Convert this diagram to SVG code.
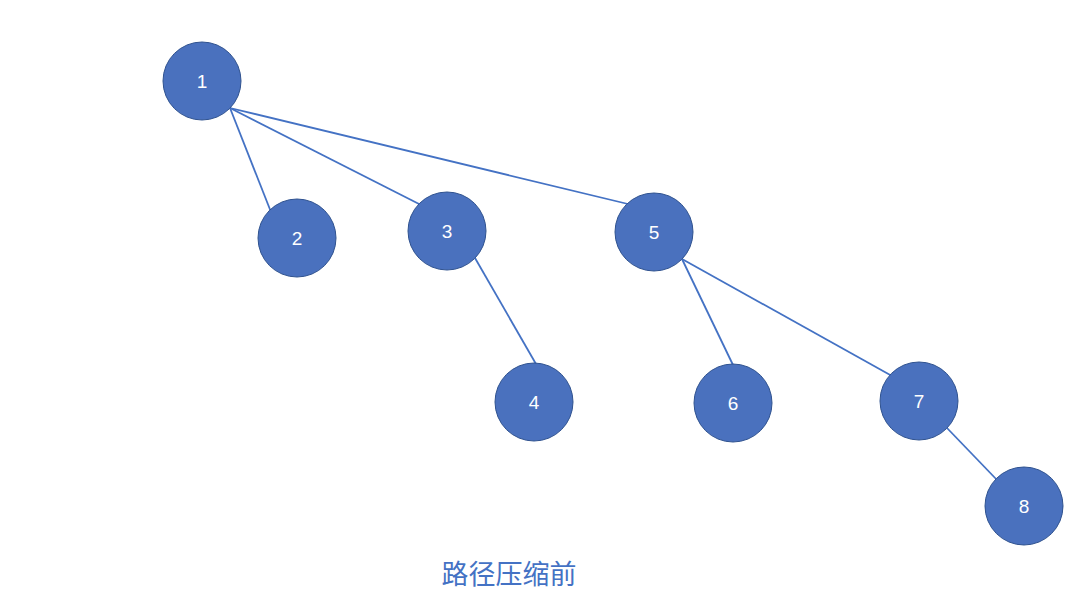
<svg xmlns="http://www.w3.org/2000/svg" width="1082" height="600" viewBox="0 0 1082 600">
<style>
.n{fill:#4A71BE;stroke:#2F528F;stroke-width:1}
.t{fill:#fff;font-family:"Liberation Sans",Arial,sans-serif;font-size:19px;text-anchor:middle}
.e{stroke:#4472C4;stroke-width:1.8;fill:none}
.title{fill:#4472C4;font-family:"Noto Sans CJK SC",sans-serif;font-size:27px;text-anchor:middle}
</style>
<rect width="1082" height="600" fill="#fff"/>
<g id="connectors">
<line class="e" x1="230" y1="108" x2="271" y2="212"/>
<line class="e" x1="230" y1="108" x2="423" y2="206"/>
<line class="e" x1="230" y1="108" x2="628" y2="204"/>
<line class="e" x1="475" y1="258" x2="536" y2="364"/>
<line class="e" x1="682" y1="259" x2="733" y2="365"/>
<line class="e" x1="682" y1="259" x2="892" y2="376"/>
<line class="e" x1="947" y1="428" x2="998" y2="481"/>
</g>
<g id="n1"><circle class="n" cx="202" cy="81" r="39"/><text class="t" x="202" y="88">1</text></g>
<g id="n2"><circle class="n" cx="297" cy="238" r="39"/><text class="t" x="297" y="245">2</text></g>
<g id="n3"><circle class="n" cx="447" cy="231" r="39"/><text class="t" x="447" y="238">3</text></g>
<g id="n4"><circle class="n" cx="534" cy="402" r="39"/><text class="t" x="534" y="409">4</text></g>
<g id="n5"><circle class="n" cx="654" cy="232" r="39"/><text class="t" x="654" y="239">5</text></g>
<g id="n6"><circle class="n" cx="733" cy="403" r="39"/><text class="t" x="733" y="410">6</text></g>
<g id="n7"><circle class="n" cx="919" cy="401" r="39"/><text class="t" x="919" y="408">7</text></g>
<g id="n8"><circle class="n" cx="1024" cy="506" r="39"/><text class="t" x="1024" y="513">8</text></g>
<text class="title" x="509" y="584">路径压缩前</text>
</svg>
